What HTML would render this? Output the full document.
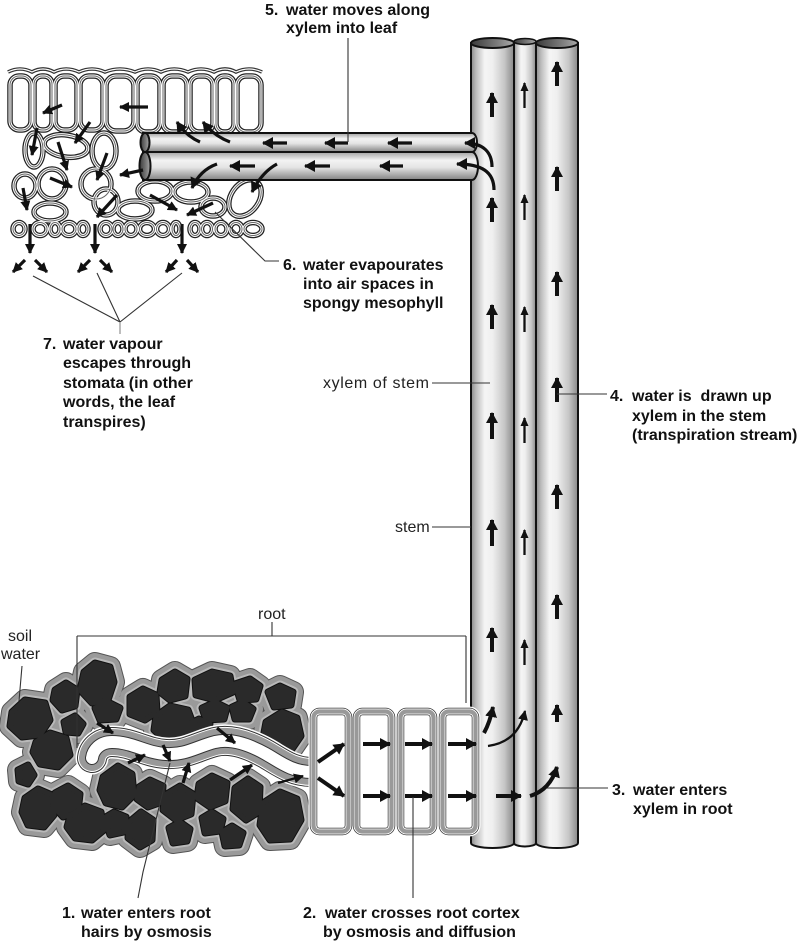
<!DOCTYPE html>
<html><head><meta charset="utf-8"><style>
html,body{margin:0;padding:0;background:#fff;}
svg{display:block;}
.b{font-family:"Liberation Sans",Arial,sans-serif;font-weight:bold;font-size:16px;fill:#111;}
.n{font-family:"Liberation Sans",Arial,sans-serif;font-size:16px;fill:#222;}
.ld{stroke:#333;stroke-width:1.1;fill:none;}
.ar{stroke:#111;fill:none;stroke-width:4;}
.ar3{stroke:#111;fill:none;stroke-width:3.2;}
.ar2{stroke:#111;fill:none;stroke-width:2.3;}
</style></head><body>
<svg width="800" height="942" viewBox="0 0 800 942" xmlns="http://www.w3.org/2000/svg">
<defs>
<linearGradient id="gv" x1="0" y1="0" x2="1" y2="0">
<stop offset="0" stop-color="#8a8a8a"/><stop offset="0.12" stop-color="#bcbcbc"/><stop offset="0.32" stop-color="#f5f5f5"/><stop offset="0.5" stop-color="#efefef"/><stop offset="0.78" stop-color="#c6c6c6"/><stop offset="1" stop-color="#888"/>
</linearGradient>
<linearGradient id="gh" x1="0" y1="0" x2="0" y2="1">
<stop offset="0" stop-color="#a0a0a0"/><stop offset="0.3" stop-color="#f3f3f3"/><stop offset="0.55" stop-color="#e4e4e4"/><stop offset="1" stop-color="#828282"/>
</linearGradient>
<linearGradient id="hole" x1="0" y1="0" x2="1" y2="0">
<stop offset="0" stop-color="#3a3a3a"/><stop offset="0.6" stop-color="#7a7a7a"/><stop offset="1" stop-color="#aaa"/>
</linearGradient>
<marker id="mA" markerUnits="userSpaceOnUse" markerWidth="11" markerHeight="12" viewBox="0 0 11 12" refX="10" refY="6" orient="auto"><path d="M0,0 L11,6 L0,12 z" fill="#111"/></marker>
<marker id="mC" markerUnits="userSpaceOnUse" markerWidth="10" markerHeight="10" viewBox="0 0 10 10" refX="9" refY="5" orient="auto"><path d="M0,0 L10,5 L0,10 z" fill="#111"/></marker>
<marker id="mB" markerUnits="userSpaceOnUse" markerWidth="9" markerHeight="8" viewBox="0 0 9 8" refX="8" refY="4" orient="auto"><path d="M0,0 L9,4 L0,8 z" fill="#111"/></marker>
<g id="soil">
<polygon points="84,672 95,663 110,667 114,682 108,700 92,703 80,690"/>
<polygon points="55,690 66,683 77,690 75,706 62,710 53,700"/>
<polygon points="12,712 25,700 45,703 50,720 40,735 22,737 10,726"/>
<polygon points="36,742 50,733 66,738 70,755 58,767 40,764 33,752"/>
<polygon points="64,722 75,716 83,724 78,733 66,732"/>
<polygon points="95,708 108,702 120,708 116,719 100,720"/>
<polygon points="130,697 143,689 156,695 157,712 145,720 130,714"/>
<polygon points="162,680 175,672 187,679 185,696 170,700 160,692"/>
<polygon points="156,716 170,706 188,710 194,726 185,739 165,740 154,730"/>
<polygon points="195,680 212,672 230,676 233,692 215,700 196,695"/>
<polygon points="202,708 215,702 227,708 224,719 206,720"/>
<polygon points="235,684 250,679 260,686 256,699 240,700"/>
<polygon points="232,707 243,702 253,709 249,719 235,719"/>
<polygon points="268,692 280,686 293,692 291,705 274,707"/>
<polygon points="266,722 282,712 297,718 301,736 290,752 272,752 263,738"/>
<polygon points="189,724 199,719 210,724 206,733 192,733"/>
<polygon points="25,798 38,789 52,795 54,815 44,827 28,825 22,812"/>
<polygon points="55,793 68,786 80,794 78,812 63,817 53,806"/>
<polygon points="70,816 85,806 101,812 104,830 92,840 75,838 67,827"/>
<polygon points="103,777 118,766 132,774 134,795 122,807 106,803 100,790"/>
<polygon points="129,822 141,812 153,820 152,840 140,847 128,838"/>
<polygon points="139,787 150,780 163,786 162,802 148,807 137,799"/>
<polygon points="165,795 180,786 193,794 191,814 176,820 163,810"/>
<polygon points="169,828 180,822 190,829 187,841 173,843"/>
<polygon points="199,784 212,776 227,783 225,801 210,807 197,798"/>
<polygon points="202,818 212,812 223,819 220,831 205,833"/>
<polygon points="235,788 248,779 260,787 259,812 246,820 233,809"/>
<polygon points="222,832 232,826 243,833 239,845 225,846"/>
<polygon points="263,803 280,792 297,799 301,820 290,839 270,840 260,825"/>
<polygon points="104,818 114,812 126,817 124,832 110,835"/>
<polygon points="18,770 28,765 34,775 28,784 19,781"/>
</g>
<g id="leafc">
<rect x="10" y="76" width="21" height="54" rx="9"/>
<rect x="34" y="76" width="18" height="54" rx="8"/>
<rect x="55" y="76" width="22" height="54" rx="9"/>
<rect x="80" y="76" width="23" height="54" rx="9"/>
<rect x="106" y="76" width="28" height="55" rx="10"/>
<rect x="137" y="76" width="23" height="56" rx="9"/>
<rect x="163" y="76" width="24" height="56" rx="9"/>
<rect x="190" y="76" width="23" height="56" rx="9"/>
<rect x="216" y="76" width="18" height="56" rx="8"/>
<rect x="237" y="76" width="24" height="56" rx="9"/>
<ellipse cx="34" cy="150" rx="9" ry="17"/>
<ellipse cx="66" cy="146" rx="22" ry="11" transform="rotate(8 66 146)"/>
<ellipse cx="104" cy="151" rx="12" ry="18"/>
<ellipse cx="25" cy="186" rx="11" ry="12"/>
<ellipse cx="52" cy="184" rx="14" ry="15"/>
<ellipse cx="96" cy="184" rx="15" ry="15"/>
<ellipse cx="50" cy="212" rx="16" ry="9"/>
<ellipse cx="106" cy="202" rx="12" ry="13"/>
<ellipse cx="135" cy="210" rx="17" ry="9"/>
<ellipse cx="155" cy="191" rx="17" ry="10"/>
<ellipse cx="191" cy="192" rx="17" ry="10"/>
<ellipse cx="213" cy="207" rx="12" ry="9"/>
<ellipse cx="245" cy="198" rx="14" ry="20" transform="rotate(35 245 198)"/>
<ellipse cx="19" cy="229" rx="6" ry="6.5"/>
<ellipse cx="40" cy="229" rx="7" ry="6.5"/>
<ellipse cx="55" cy="229" rx="5" ry="6.5"/>
<ellipse cx="69" cy="229" rx="7" ry="6.5"/>
<ellipse cx="83" cy="229" rx="5" ry="6.5"/>
<ellipse cx="106" cy="229" rx="6" ry="6.5"/>
<ellipse cx="118" cy="229" rx="5" ry="6.5"/>
<ellipse cx="131" cy="229" rx="6" ry="6.5"/>
<ellipse cx="147" cy="229" rx="7.5" ry="6.5"/>
<ellipse cx="163" cy="229" rx="6.5" ry="6.5"/>
<ellipse cx="176" cy="229" rx="4" ry="6.5"/>
<ellipse cx="195" cy="229" rx="5" ry="6.5"/>
<ellipse cx="207" cy="229" rx="5.5" ry="6.5"/>
<ellipse cx="221" cy="229" rx="6" ry="6.5"/>
<ellipse cx="236" cy="229" rx="6" ry="6.5"/>
<ellipse cx="253" cy="229" rx="9" ry="6.5"/>
</g>
<g id="cort">
<rect x="313.5" y="711.5" width="35" height="120" rx="6"/>
<rect x="356.5" y="711.5" width="35" height="120" rx="6"/>
<rect x="400.5" y="711.5" width="33" height="120" rx="6"/>
<rect x="442.5" y="711.5" width="33" height="120" rx="6"/>
</g>
<path id="hair" d="M312,772 C292,772 280,762 266,754 C250,745 232,738 215,742 C196,747 186,755 166,754 C146,753 132,742 112,742 C100,742 93,750 92,758"/>
</defs>

<rect width="800" height="942" fill="#fff"/>

<!-- vertical xylem tubes -->
<path d="M514,42 L514,843 A11,3.5 0 0 0 536,843 L536,42 Z" fill="url(#gv)" stroke="#111" stroke-width="2"/>
<path d="M536,43 L536,843 A21,5 0 0 0 578,843 L578,43 Z" fill="url(#gv)" stroke="#111" stroke-width="2"/>
<path d="M471,43 L471,843 A21.5,5 0 0 0 514,843 L514,43 Z" fill="url(#gv)" stroke="#111" stroke-width="2"/>
<ellipse cx="525" cy="41.5" rx="11" ry="3" fill="url(#hole)" stroke="#111" stroke-width="1.6"/>
<ellipse cx="557" cy="43" rx="21" ry="5" fill="url(#hole)" stroke="#111" stroke-width="2"/>
<ellipse cx="492.5" cy="43" rx="21.5" ry="5" fill="url(#hole)" stroke="#111" stroke-width="2"/>

<!-- tube arrows -->
<g class="ar" marker-end="url(#mA)">
<path d="M492,117 L492,93"/><path d="M492,222 L492,198"/><path d="M492,329 L492,305"/><path d="M492,439 L492,413"/><path d="M492,546 L492,520"/><path d="M492,652 L492,628"/>
<path d="M557,86 L557,62"/><path d="M557,191 L557,167"/><path d="M557,296 L557,272"/><path d="M557,402 L557,378"/><path d="M557,509 L557,485"/><path d="M557,619 L557,595"/><path d="M557,722 L557,705"/>
</g>
<g class="ar2" marker-end="url(#mB)">
<path d="M524.5,108 L524.5,83"/><path d="M524.5,220 L524.5,195"/><path d="M524.5,332 L524.5,307"/><path d="M524.5,443 L524.5,418"/><path d="M524.5,555 L524.5,530"/><path d="M524.5,665 L524.5,640"/>
</g>

<!-- leaf cells -->
<path d="M8,72 Q20,66 32,72 Q43,66 54,72 Q66,66 79,72 Q92,66 105,72 Q120,66 135,72 Q148,66 161,72 Q174,66 188,72 Q201,66 214,72 Q225,66 236,72 Q249,66 262,72" fill="none" stroke="#333" stroke-width="3.6"/>
<path d="M8,72 Q20,66 32,72 Q43,66 54,72 Q66,66 79,72 Q92,66 105,72 Q120,66 135,72 Q148,66 161,72 Q174,66 188,72 Q201,66 214,72 Q225,66 236,72 Q249,66 262,72" fill="none" stroke="#fff" stroke-width="1.2"/>
<use href="#leafc" fill="#fff" stroke="#222" stroke-width="5.5"/>
<use href="#leafc" fill="none" stroke="#fff" stroke-width="3"/>
<use href="#leafc" fill="none" stroke="#666" stroke-width="1"/>

<!-- horizontal leaf xylem -->
<path d="M143,152 L472,152 A6,14 0 0 1 472,180 L143,180 Z" fill="url(#gh)" stroke="#111" stroke-width="2"/>
<path d="M143,133 L472,133 A5,9.5 0 0 1 472,152 L143,152 Z" fill="url(#gh)" stroke="#111" stroke-width="2"/>
<ellipse cx="145" cy="166" rx="5.5" ry="14" fill="url(#hole)" stroke="#111" stroke-width="2"/>
<ellipse cx="145" cy="142.5" rx="4.5" ry="9.5" fill="url(#hole)" stroke="#111" stroke-width="2"/>

<g class="ar3" marker-end="url(#mA)">
<path d="M287,143 L263,143"/><path d="M348,143 L325,143"/><path d="M412,143 L388,143"/>
<path d="M255,166 L230,166"/><path d="M330,166 L305,166"/><path d="M403,166 L380,166"/>
<path d="M492,167 C492,152 483,143 465,143"/>
<path d="M494,190 C494,172 482,164 457,164"/>
<path d="M200,142 Q186,136 177,122"/><path d="M230,142 Q214,136 203,122"/>
<path d="M217,164 Q200,170 192,188"/><path d="M277,164 Q262,172 252,192"/>
</g>
<g class="ar3" marker-end="url(#mC)">
<path d="M62,105 L43,113"/><path d="M148,107 L120,107"/><path d="M90,122 L75,143"/><path d="M37,128 L32,155"/>
<path d="M58,142 L67,170"/><path d="M107,153 L97,180"/><path d="M50,178 L72,187"/><path d="M23,188 L27,210"/>
<path d="M117,195 L97,217"/><path d="M150,195 L177,210"/><path d="M213,203 L187,215"/><path d="M143,170 L120,175"/>
<path d="M30,224 L30,253"/><path d="M95,224 L95,253"/><path d="M182,224 L182,253"/>
<path d="M25,260 L13,272"/><path d="M35,260 L47,272"/><path d="M90,260 L78,272"/><path d="M100,260 L112,272"/><path d="M177,260 L166,272"/><path d="M187,260 L198,272"/>
</g>

<!-- soil -->
<use href="#soil" fill="#555" stroke="#555" stroke-width="22" stroke-linejoin="round"/>
<use href="#soil" fill="#9a9a9a" stroke="#9a9a9a" stroke-width="20" stroke-linejoin="round"/>
<use href="#soil" fill="#b9b9b9" stroke="#b9b9b9" stroke-width="11" stroke-linejoin="round"/>
<use href="#soil" fill="#111" stroke="#111" stroke-width="7" stroke-linejoin="round"/>
<use href="#soil" fill="#2a2a2a" stroke="#2a2a2a" stroke-width="5" stroke-linejoin="round"/>

<!-- root hair -->
<use href="#hair" fill="none" stroke="#fff" stroke-width="33" stroke-linecap="round"/>
<use href="#hair" fill="none" stroke="#333" stroke-width="30" stroke-linecap="round"/>
<use href="#hair" fill="none" stroke="#fff" stroke-width="28" stroke-linecap="round"/>
<use href="#hair" fill="none" stroke="#999" stroke-width="26" stroke-linecap="round"/>
<use href="#hair" fill="none" stroke="#333" stroke-width="14" stroke-linecap="round"/>
<use href="#hair" fill="none" stroke="#fff" stroke-width="12" stroke-linecap="round"/>

<!-- cortex cells -->
<use href="#cort" fill="#fff" stroke="#fff" stroke-width="10"/>
<use href="#cort" fill="#fff" stroke="#333" stroke-width="7.5"/>
<use href="#cort" fill="none" stroke="#fff" stroke-width="6"/>
<use href="#cort" fill="none" stroke="#999" stroke-width="4.2"/>

<g class="ar" marker-end="url(#mA)">
<path d="M363,744 L390,744"/><path d="M405,744 L432,744"/><path d="M448,744 L476,744"/>
<path d="M363,796 L390,796"/><path d="M405,796 L432,796"/><path d="M448,796 L476,796"/>
<path d="M318,762 L344,744"/><path d="M318,778 L344,796"/>
<path d="M496,796 L521,796"/>
<path d="M484,733 Q490,722 493,707"/>
<path d="M530,796 Q550,790 557,767"/>
</g>
<g class="ar2" marker-end="url(#mC)">
<path d="M278,783 L303,776"/>
<path d="M488,746 Q518,742 525,711"/>
</g>
<g class="ar3" marker-end="url(#mC)">
<path d="M97,723 L113,733"/><path d="M217,728 L235,743"/><path d="M163,745 L170,761"/>
<path d="M128,763 L145,755"/><path d="M183,783 L189,763"/><path d="M230,780 L252,765"/>
</g>

<!-- leader lines -->
<path class="ld" d="M348,38 L348,142"/>
<path class="ld" d="M215,212 L265,261 L279,261"/>
<path class="ld" d="M33,276 L120,322 M97,273 L120,322 M182,273 L120,322"/>
<path d="M120,322 L120,334" stroke="#999" stroke-width="1.3"/>
<path class="ld" d="M432,383 L490,383"/>
<path class="ld" d="M432,527 L471,527"/>
<path class="ld" d="M557,394 L607,394"/>
<path class="ld" d="M547,788 L608,788"/>
<path class="ld" d="M77,636 L466,636 M77,636 L77,748 M466,636 L466,703 M272,622 L272,636"/>
<path class="ld" d="M22,666 L19,701"/>
<path class="ld" d="M138,898 L143,872 L170,763"/>
<path class="ld" d="M413,797 L413,898"/>

<!-- text -->
<text class="b" x="265" y="15">5.</text><text class="b" x="286" y="15">water moves along</text>
<text class="b" x="286" y="33">xylem into leaf</text>

<text class="b" x="283" y="270">6.</text><text class="b" x="303" y="270">water evapourates</text>
<text class="b" x="303" y="289">into air spaces in</text>
<text class="b" x="303" y="308">spongy mesophyll</text>

<text class="b" x="43" y="349">7.</text><text class="b" x="63" y="349">water vapour</text>
<text class="b" x="63" y="368">escapes through</text>
<text class="b" x="63" y="388">stomata (in other</text>
<text class="b" x="63" y="407">words, the leaf</text>
<text class="b" x="63" y="427">transpires)</text>

<text class="n" x="323" y="388" textLength="106" lengthAdjust="spacing">xylem of stem</text>
<text class="n" x="395" y="532">stem</text>

<text class="b" x="610" y="401">4.</text><text class="b" x="632" y="401" xml:space="preserve">water is  drawn up</text>
<text class="b" x="632" y="421">xylem in the stem</text>
<text class="b" x="632" y="440">(transpiration stream)</text>

<text class="n" x="258" y="619">root</text>
<text class="n" x="8" y="641">soil</text>
<text class="n" x="1" y="659">water</text>

<text class="b" x="612" y="795">3.</text><text class="b" x="633" y="795">water enters</text>
<text class="b" x="633" y="814">xylem in root</text>

<text class="b" x="62" y="918">1.</text><text class="b" x="81" y="918">water enters root</text>
<text class="b" x="81" y="937">hairs by osmosis</text>

<text class="b" x="303" y="918">2.</text><text class="b" x="325" y="918">water crosses root cortex</text>
<text class="b" x="323" y="937">by osmosis and diffusion</text>
</svg>
</body></html>
